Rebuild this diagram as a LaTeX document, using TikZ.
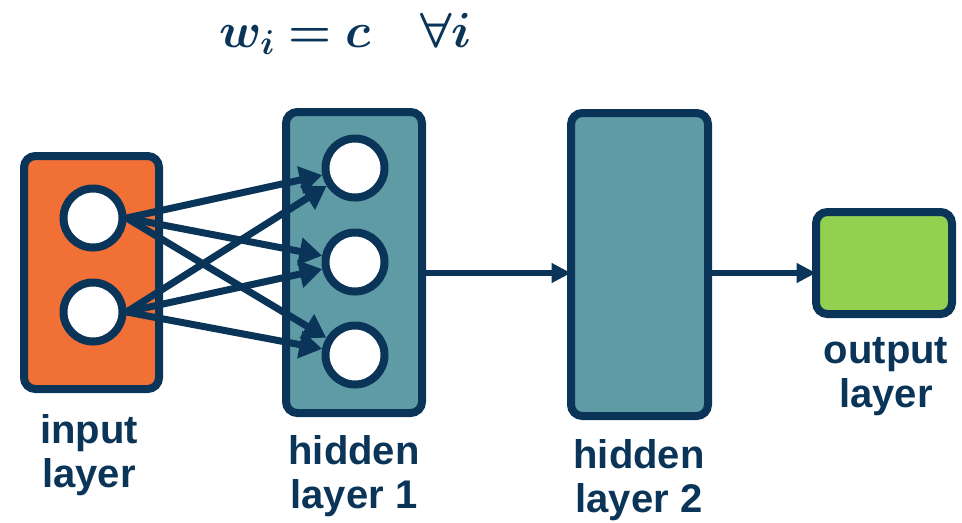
\RequirePackage{fix-cm}
\documentclass[tikz,border=0pt]{standalone}
\usepackage{amsmath}
\usepackage{bm}
\usepackage{fontspec}
\newfontfamily\labfont{Liberation Sans}
\usetikzlibrary{arrows.meta,calc}
\definecolor{navy}{RGB}{10,53,88}
\definecolor{boxorange}{RGB}{240,112,54}
\definecolor{boxteal}{RGB}{94,155,165}
\definecolor{boxgreen}{RGB}{146,208,80}
\tikzset{
  layerbox/.style={draw=navy, line width=6pt, rounded corners=8.5pt, inner sep=0pt, outer sep=0pt},
  neuron/.style={circle, draw=navy, fill=white, line width=6pt, minimum size=44.25pt, inner sep=0pt},
  fanarrow/.style={draw=navy, line width=5.25pt, -{Triangle[length=17pt,width=20pt]}},
  flowarrow/.style={draw=navy, line width=4pt, -{Triangle[length=14.5pt,width=14pt]}},
  lab/.style={text=navy, font=\labfont\bfseries\fontsize{30}{32.5}\selectfont, align=center, inner sep=0pt, anchor=base}
}
\begin{document}
\begin{tikzpicture}[x=0.75pt,y=-0.75pt]
\useasboundingbox (0,0) rectangle (962,522);
% boxes
\node[layerbox, fill=boxorange, minimum width=101.25pt, minimum height=174.75pt] (inbox) at (91.5,272.5) {};
\node[layerbox, fill=boxteal, minimum width=102pt, minimum height=225.75pt] (hid1) at (354,262.5) {};
\node[layerbox, fill=boxteal, minimum width=102.75pt, minimum height=227.25pt] (hid2) at (639.5,264.5) {};
\node[layerbox, fill=boxgreen, minimum width=102pt, minimum height=76.5pt] (outbox) at (884,263) {};
% neurons
\node[neuron] (i1) at (93,218) {};
\node[neuron] (i2) at (93,312) {};
\node[neuron] (h1) at (355,168) {};
\node[neuron] (h2) at (355,262) {};
\node[neuron] (h3) at (355,355) {};
% fan connections
\foreach \s in {i1,i2}{
  \foreach \t in {h1,h2,h3}{
    \draw[fanarrow] (\s.east) -- (\t);
  }
}
% flow arrows
\draw[flowarrow] ([yshift=-7.875pt]hid1.east) -- ([yshift=-7.875pt]hid1.east -| hid2.west);
\draw[flowarrow] ([yshift=-7.5pt]outbox.west -| hid2.east) -- ([yshift=-7.5pt]outbox.west);
% labels (anchor = baseline of last line)
\node[lab] (linput) at (89,487) {input\\layer};
\node[lab] (lhid1) at (354,508) {hidden\\layer 1};
\node[lab] (lhid2) at (639,512) {hidden\\layer 2};
\node[lab] (lout) at (886,407) {output\\layer};
% formula
\node[anchor=base west, text=navy, inner sep=0pt] (formula) at (219,47) {\fontsize{37}{42}\selectfont $\bm{w_i = c \quad \forall i}$};
\end{tikzpicture}
\end{document}
